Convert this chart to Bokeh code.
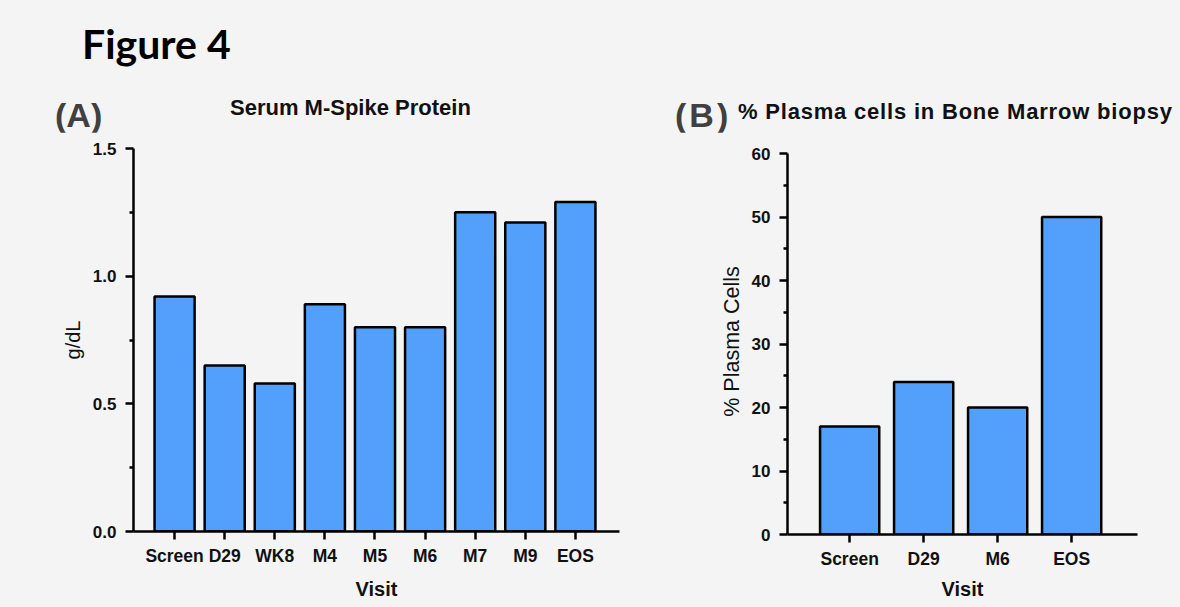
from bokeh.plotting import figure
from bokeh.models import FixedTicker, Div
from bokeh.layouts import row, column
from bokeh.embed import file_html
from bokeh.resources import INLINE

# ---- data ----
visits_a = ["Screen", "D29", "WK8", "M4", "M5", "M6", "M7", "M9", "EOS"]
mspike = [0.92, 0.65, 0.58, 0.89, 0.80, 0.80, 1.25, 1.21, 1.29]
visits_b = ["Screen", "D29", "M6", "EOS"]
plasma = [17, 24, 20, 50]
ticks_a = [0.0, 0.5, 1.0, 1.5]
ticks_b = [0, 10, 20, 30, 40, 50, 60]

BG = "#f4f4f4"
BAR = "#529ffc"
FONT = "Liberation Sans"
HEADER_H = 132


def style(p):
    p.background_fill_color = BG
    p.border_fill_color = BG
    p.outline_line_color = None
    p.grid.visible = False
    for ax in (p.xaxis[0], p.yaxis[0]):
        ax.axis_line_width = 2.5
        ax.axis_line_color = "black"
        ax.major_tick_line_width = 2.5
        ax.minor_tick_line_width = 2.5
        ax.major_tick_in = 0
        ax.major_tick_out = 8
        ax.minor_tick_in = 0
        ax.minor_tick_out = 4
        ax.major_label_text_font = FONT
        ax.major_label_text_font_style = "bold"
        ax.major_label_text_color = "#111111"
        ax.axis_label_text_font = FONT
        ax.axis_label_text_color = "#111111"
        ax.axis_label_text_font_size = "20px"
    p.xaxis[0].major_label_text_font_size = "17.5px"
    p.yaxis[0].major_label_text_font_size = "17px"
    p.xaxis[0].axis_label_text_font_style = "bold"
    p.yaxis[0].axis_label_text_font_style = "normal"
    p.xaxis[0].major_label_standoff = 6
    p.yaxis[0].major_label_standoff = 9


# ---- panel A ----
xa = list(range(len(visits_a)))
pa = figure(frame_width=486, frame_height=383, min_border_left=133, min_border_right=41,
            min_border_top=16, min_border_bottom=69,
            x_range=(-0.82, 8.88), y_range=(0, 1.5),
            toolbar_location=None, output_backend="svg", tools="")
pa.vbar(x=xa, top=mspike, width=0.8, fill_color=BAR, line_color="black", line_width=2.5)
style(pa)
pa.xaxis[0].ticker = FixedTicker(ticks=xa)
pa.xaxis[0].major_label_overrides = {i: v for i, v in enumerate(visits_a)}
pa.yaxis[0].ticker = FixedTicker(ticks=ticks_a, minor_ticks=[0.25, 0.75, 1.25])
pa.yaxis[0].major_label_overrides = {t: f"{t:.1f}" for t in ticks_a}
pa.xaxis[0].axis_label = "Visit"
pa.yaxis[0].axis_label = "g/dL"
pa.xaxis[0].axis_label_standoff = 9
pa.yaxis[0].axis_label_standoff = 6

# ---- panel B ----
xb = list(range(len(visits_b)))
# frame starts 5px above the 60 tick; axis bounded to 0..60
pb = figure(frame_width=350, frame_height=386, min_border_left=127, min_border_right=39,
            min_border_top=16, min_border_bottom=66,
            x_range=(-0.84, 3.89), y_range=(0, 60 * 386 / 381),
            toolbar_location=None, output_backend="svg", tools="")
pb.vbar(x=xb, top=plasma, width=0.8, fill_color=BAR, line_color="black", line_width=2.5)
style(pb)
pb.yaxis[0].bounds = (0, 60)
pb.xaxis[0].ticker = FixedTicker(ticks=xb)
pb.xaxis[0].major_label_overrides = {i: v for i, v in enumerate(visits_b)}
pb.yaxis[0].ticker = FixedTicker(ticks=ticks_b, minor_ticks=[5, 15, 25, 35, 45, 55])
pb.xaxis[0].axis_label = "Visit"
pb.yaxis[0].axis_label = "% Plasma Cells"
pb.yaxis[0].axis_label_text_font_size = "21.5px"
pb.xaxis[0].axis_label_standoff = 6
pb.yaxis[0].axis_label_standoff = 5

# ---- header texts ----
def span(txt, left, top, font, size, color, extra=""):
    return (f'<span style="position:absolute;left:{left}px;top:{top}px;white-space:nowrap;'
            f'font-family:\'{font}\';font-weight:bold;font-size:{size}px;line-height:{size}px;'
            f'color:{color};{extra}">{txt}</span>')


header_html = (
    f'<div style="position:relative;width:1176px;height:{HEADER_H}px;background:{BG};">'
    + span("Figure 4", 82, 23, "Lato", 41, "#000000")
    + span("(A)", 55, 98, FONT, 34, "#404040")
    + span("Serum M-Spike Protein", 230, 97, FONT, 22, "#111111")
    + span("(B)", 675, 98, FONT, 34, "#404040", "letter-spacing:3px;")
    + span("% Plasma cells in Bone Marrow biopsy", 738, 101, FONT, 22, "#111111",
           "letter-spacing:0.8px;")
    + '</div>'
)
header = Div(text=header_html, width=1176, height=HEADER_H, margin=0,
             styles={"background": BG})

layout = column(header, row(pa, pb, spacing=0), spacing=0)
html = file_html(layout, INLINE)
html = html.replace("</head>", f"<style>html, body {{ background: {BG} !important; }}</style></head>", 1)
open("out.html", "w").write(html)
